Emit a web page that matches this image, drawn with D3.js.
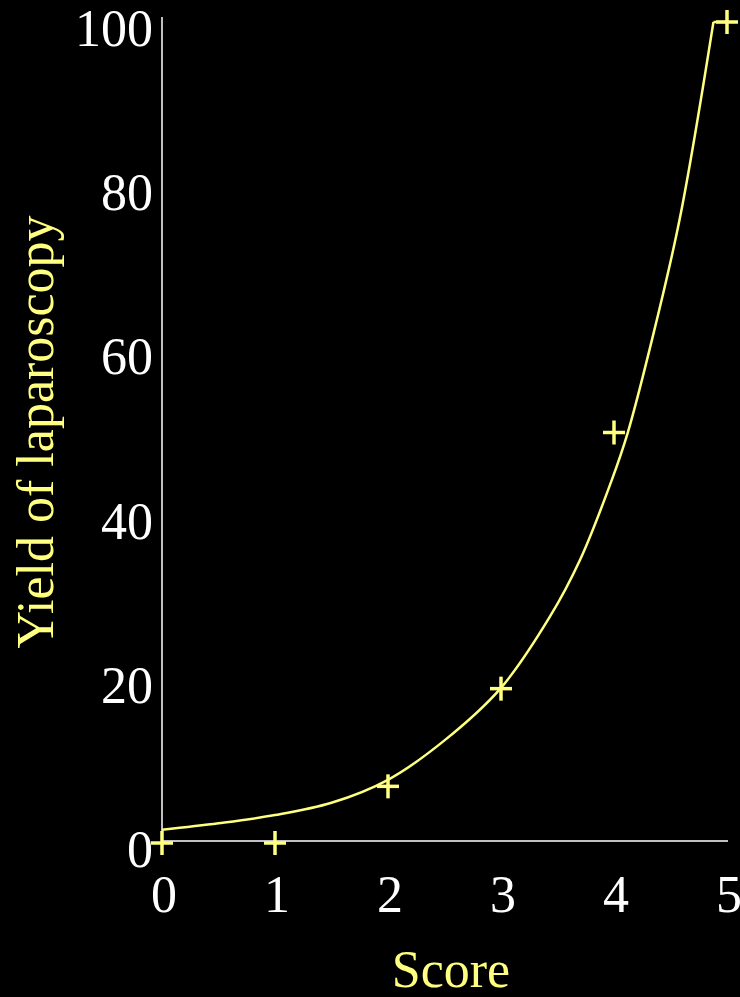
<!DOCTYPE html>
<html>
<head>
<meta charset="utf-8">
<script src="https://cdn.jsdelivr.net/npm/d3@7"></script>
<style>
  html, body { margin: 0; padding: 0; background: #000; }
  svg { display: block; }
  text { font-family: "Liberation Serif", "Times New Roman", serif; }
</style>
</head>
<body>
<svg id="chart" width="740" height="997"></svg>
<script>
// observed points (score -> yield %)
var scores = [0, 1, 2, 3, 4, 5];
var yields = [0, 0, 6.9, 18.8, 50, 100];

// fitted curve (it is capped at 100 near the end)
var curveX = [0, 0.5, 1, 1.5, 2, 2.5, 3, 3.43, 3.7, 3.98, 4.12, 4.32, 4.58, 4.88];
var curveY = [1.6, 2.4, 3.4, 4.9, 7.7, 12.5, 18.9, 27.5, 34.5, 44.2, 49.9, 60.4, 75.9, 100];
var capX = [4.88, 5];
var capY = [100, 100];

var xTicks = [0, 1, 2, 3, 4, 5];
var yTicks = [0, 20, 40, 60, 80, 100];

var yellow = '#ffff80';
var grey = '#c0c0c0';

var svg = d3.select('#chart');

var x = d3.scaleLinear().domain([0, 5]).range([162, 727]);
var y = d3.scaleLinear().domain([0, 100]).range([843, 22]);

// axes, drawn as plain lines (no tick marks in the original)
svg.append('line')
  .attr('x1', 162).attr('x2', 162)
  .attr('y1', 17).attr('y2', 842)
  .attr('stroke', grey).attr('stroke-width', 2);
svg.append('line')
  .attr('x1', 161).attr('x2', 728)
  .attr('y1', 841).attr('y2', 841)
  .attr('stroke', grey).attr('stroke-width', 2);

// tick labels
svg.append('g').selectAll('text').data(yTicks).enter().append('text')
  .attr('x', 153)
  .attr('y', function(d){ return y(d) + 24; })
  .attr('text-anchor', 'end')
  .attr('font-size', 52)
  .attr('fill', '#fff')
  .text(function(d){ return d; });

svg.append('g').selectAll('text').data(xTicks).enter().append('text')
  .attr('x', function(d){ return x(d) + 2; })
  .attr('y', 912)
  .attr('text-anchor', 'middle')
  .attr('font-size', 52)
  .attr('fill', '#fff')
  .text(function(d){ return d; });

// axis titles
svg.append('text')
  .attr('x', 451).attr('y', 987)
  .attr('text-anchor', 'middle')
  .attr('font-size', 52)
  .attr('fill', yellow)
  .text('Score');

svg.append('text')
  .attr('transform', 'translate(53,432) rotate(-90)')
  .attr('text-anchor', 'middle')
  .attr('font-size', 52)
  .attr('fill', yellow)
  .text('Yield of laparoscopy');

// curve
var smooth = d3.line()
  .x(function(d){ return x(d[0]); })
  .y(function(d){ return y(d[1]); })
  .curve(d3.curveCatmullRom.alpha(0.5));
var straight = d3.line()
  .x(function(d){ return x(d[0]); })
  .y(function(d){ return y(d[1]); });

svg.append('path')
  .datum(d3.zip(curveX, curveY))
  .attr('d', smooth)
  .attr('fill', 'none')
  .attr('stroke', yellow)
  .attr('stroke-width', 2.5);
svg.append('path')
  .datum(d3.zip(capX, capY))
  .attr('d', straight)
  .attr('fill', 'none')
  .attr('stroke', yellow)
  .attr('stroke-width', 2.5);

// plus markers
var plus = svg.append('g').selectAll('g').data(d3.zip(scores, yields)).enter().append('g')
  .attr('transform', function(d){ return 'translate(' + x(d[0]) + ',' + y(d[1]) + ')'; });
plus.append('line')
  .attr('x1', -11).attr('x2', 11).attr('y1', 0).attr('y2', 0)
  .attr('stroke', yellow).attr('stroke-width', 3.5);
plus.append('line')
  .attr('x1', 0).attr('x2', 0).attr('y1', -12).attr('y2', 12)
  .attr('stroke', yellow).attr('stroke-width', 3.5);
</script>
</body>
</html>
